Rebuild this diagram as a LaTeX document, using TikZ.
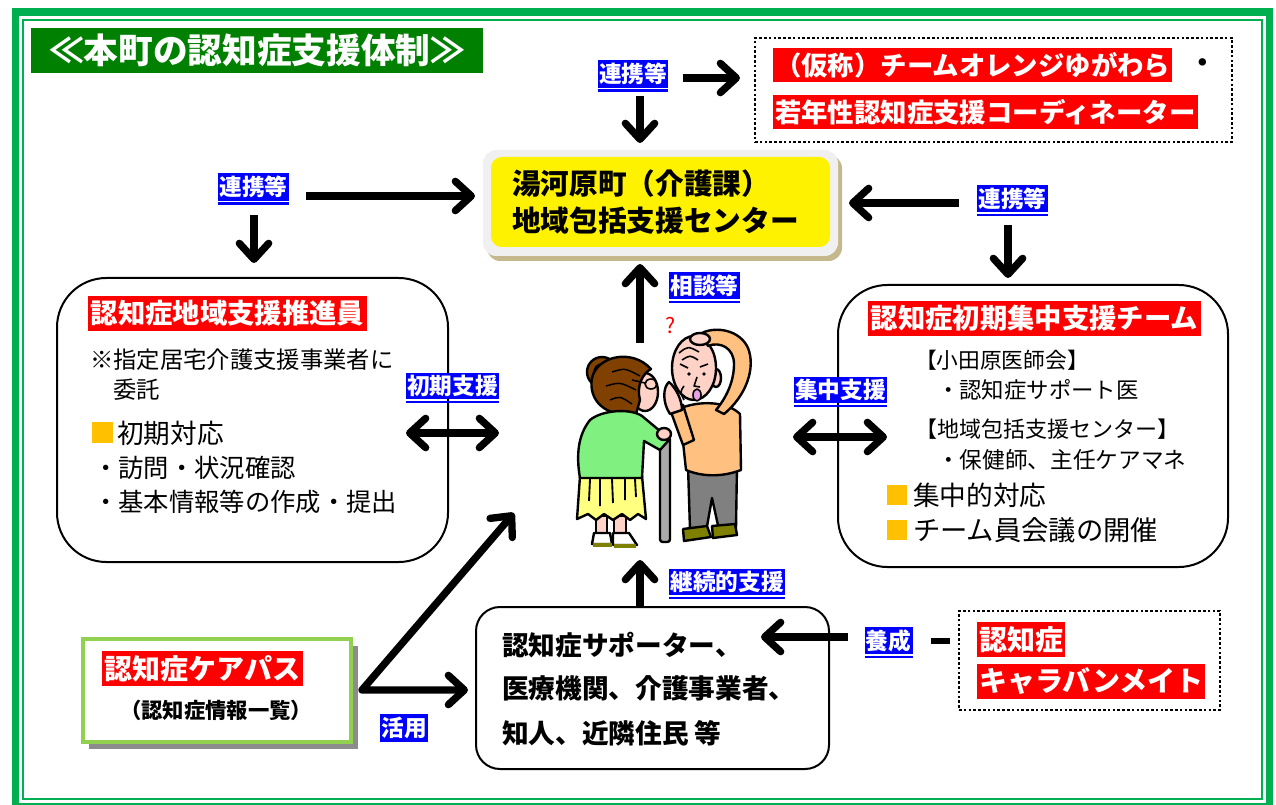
\documentclass[tikz,border=0pt]{standalone}
\usepackage{fontspec}
\setmainfont{Noto Sans CJK JP}
\usetikzlibrary{arrows.meta,fit,calc}

\definecolor{framegreen}{RGB}{0,176,80}
\definecolor{titlegreen}{RGB}{0,128,0}
\definecolor{tagblue}{RGB}{0,0,255}
\definecolor{barred}{RGB}{255,0,0}
\definecolor{bulletgold}{RGB}{255,192,0}
\definecolor{pathgreen}{RGB}{146,208,80}
\definecolor{panelgray}{RGB}{240,240,240}
\definecolor{paneltan}{RGB}{196,184,140}
\definecolor{hairbrown}{RGB}{128,64,0}
\definecolor{skin}{RGB}{255,210,200}
\definecolor{jumpergreen}{RGB}{128,240,128}
\definecolor{skirtyellow}{RGB}{255,255,128}
\definecolor{jumperorange}{RGB}{255,192,128}
\definecolor{trousergray}{RGB}{128,128,128}
\definecolor{shoeolive}{RGB}{128,128,0}
\definecolor{canegray}{RGB}{170,170,170}
\definecolor{mouthlilac}{RGB}{230,160,230}
\definecolor{shadowgray}{RGB}{140,140,140}

\newcommand\fsz[1]{\fontsize{#1pt}{#1pt}\selectfont}

\begin{document}
\begin{tikzpicture}[x=0.75pt,y=-0.75pt,
  every node/.style={inner sep=0pt,outer sep=0pt},
  >={Straight Barb[length=12pt,width=22pt,round]},
  bigarrow/.style={line width=5.5pt,->},
  twoway/.style={line width=5.5pt,<->},
  tag/.style={fill=tagblue,text=white,font=\fsz{17}\bfseries,inner xsep=1pt,inner ysep=2pt},
  redbar/.style={fill=barred,text=white,font=\fsz{20.5}\bfseries,inner xsep=2pt,inner ysep=3pt,anchor=west},
  plain/.style={anchor=west,text=black},
  roundbox/.style={draw,line width=1.5pt,rounded corners=#1},
  dotbox/.style={draw,line width=2pt,dash pattern=on 2pt off 1.6pt},
  outline/.style={draw=black,line width=1.8pt,line join=round}
]
\useasboundingbox (0,0) rectangle (1276,805);
\fill[white] (0,0) rectangle (1276,805);

% double green frame
\draw[framegreen,line width=5.5pt] (15.5,12) rectangle (1269.5,807);
\draw[framegreen,line width=1.5pt] (22.5,20) rectangle (1262,799);

% title
\node[fit={(31,28) (483,73)},fill=titlegreen] (title) {};
\node[text=white,font=\fsz{26}\bfseries] (titletext) at (title.center) {≪本町の認知症支援体制≫};

% top right dotted panel
\node[fit={(755,38) (1232,142)},dotbox] (teambox) {};
\node[redbar,font=\fsz{19.8}\bfseries,inner xsep=1.5pt] (tb1) at (773,65) {（仮称）チームオレンジゆがわら};
\node[anchor=center,font=\fsz{20}\bfseries] (tbdot) at (1203,66) {・};
\node[redbar,font=\fsz{19.8}\bfseries,inner xsep=1.5pt] (tb2) at (773,112) {若年性認知症支援コーディネーター};

% central office panel
\fill[paneltan,rounded corners=10pt] (487,155) rectangle (842,261);
\node[fit={(483,150) (838,256)},fill=panelgray,rounded corners=10pt] (yellowbox) {};
\fill[yellow,rounded corners=8pt] (491,157) rectangle (830,247);
\node[plain,font=\fsz{21.5}\bfseries] (yt1) at (512,184) {湯河原町（介護課）};
\node[plain,font=\fsz{21.5}\bfseries] (yt2) at (512,221) {地域包括支援センター};

% left panel: community support promoter
\node[fit={(57,278) (448,562)},roundbox=37pt] (leftbox) {};
\node[redbar] (lbt) at (88,313.5) {認知症地域支援推進員};
\node[plain,font=\fsz{17.5}] (lb1) at (90,360) {※指定居宅介護支援事業者に};
\node[plain,font=\fsz{17.5}] (lb2) at (113,390) {委託};
\fill[bulletgold] (92,422) rectangle (113,443);
\node[plain,font=\fsz{20}] (lb3) at (117,433) {初期対応};
\node[plain,font=\fsz{19}] (lb4) at (93,468) {・訪問・状況確認};
\node[plain,font=\fsz{19}] (lb5) at (93,502) {・基本情報等の作成・提出};

% right panel: early intensive support team
\node[fit={(838,285) (1228,567)},roundbox=37pt] (rightbox) {};
\node[redbar] (rbt) at (868,318.5) {認知症初期集中支援チーム};
\node[plain,font=\fsz{16.3}] (rb1) at (915,360) {【小田原医師会】};
\node[plain,font=\fsz{16.8}] (rb2) at (937,390) {・認知症サポート医};
\node[plain,font=\fsz{16.5}] (rb3) at (915,429) {【地域包括支援センター】};
\node[plain,font=\fsz{17}] (rb4) at (937,460) {・保健師、主任ケアマネ};
\fill[bulletgold] (887,485) rectangle (907,505);
\node[plain,font=\fsz{20}] (rb5) at (913,495) {集中的対応};
\fill[bulletgold] (887,520) rectangle (907,540);
\node[plain,font=\fsz{20.5}] (rb6) at (913,530) {チーム員会議の開催};

% bottom panel: supporters
\node[fit={(476,607) (829,769)},roundbox=18pt] (bottombox) {};
\node[plain,font=\fsz{20}\bfseries] (bb1) at (502,645) {認知症サポーター、};
\node[plain,font=\fsz{20}\bfseries] (bb2) at (502,688) {医療機関、介護事業者、};
\node[plain,font=\fsz{20}\bfseries] (bb3) at (502,733) {知人、近隣住民 等};

% caravan mate panel
\node[fit={(959,611) (1220,710)},dotbox] (caravan) {};
\node[redbar,font=\fsz{21}\bfseries,inner xsep=1.5pt] (cv1) at (977,639.5) {認知症};
\node[redbar,font=\fsz{21}\bfseries,inner xsep=1.5pt] (cv2) at (977,681.5) {キャラバンメイト};

% care path panel
\fill[shadowgray] (89,646) rectangle (358,749);
\node[fit={(83,639) (351,742)},fill=white,draw=pathgreen,line width=3pt] (carepath) {};
\node[redbar,font=\fsz{21}\bfseries] (cp1) at (102,668.5) {認知症ケアパス};
\node[plain,font=\fsz{16}\bfseries] (cp2) at (120,710) {（認知症情報一覧）};

% blue tags (on top of the panel borders)
\node[tag] (lA) at (633,74) {連携等};
\node[tag] (lB) at (253.5,187) {連携等};
\node[tag] (lC) at (1012.5,198.5) {連携等};
\node[tag] (lE) at (704.5,285.5) {相談等};
\node[tag] (lD) at (452.5,386) {初期支援};
\node[tag] (lF) at (840.5,390) {集中支援};
\node[tag] (lG) at (727,582) {継続的支援};
\node[tag] (lH) at (888.5,640.5) {養成};
\node[tag] (lI) at (404,728) {活用};
\foreach \t in {lA,lB,lC,lE,lD,lF,lG,lH}
  \draw[tagblue,line width=1.6pt] ([yshift=-2.2pt]\t.south west) -- ([yshift=-2.2pt]\t.south east);

% the two people in the middle
\node[fit={(577,343) (748,548)}] (people) {};
\begin{scope}[outline]
  % man: trousers, shoes, jumper
  \filldraw[fill=trousergray] (688,466) -- (737,464) -- (736,528) -- (719,530) -- (712,498) -- (706,532) -- (690,530) -- cycle;
  \filldraw[fill=shoeolive] (683,529) -- (707,526) -- (711,537) -- (684,541) -- cycle;
  \filldraw[fill=shoeolive] (712,526) -- (735,524) -- (737,535) -- (713,538) -- cycle;
  \filldraw[fill=jumperorange] (676,410) .. controls (700,399) and (728,402) .. (740,414) -- (741,470) .. controls (720,478) and (700,476) .. (686,470) -- (683,442) -- cycle;
  \filldraw[fill=jumperorange] (683,445) -- (671,412) -- (683,405) -- (694,440) -- cycle;
  \filldraw[fill=skin] (670,414) .. controls (662,402) and (663,387) .. (669,382) .. controls (676,388) and (682,400) .. (682,410) -- cycle;
  % man: head and face
  \filldraw[fill=skin] (716,378) ellipse (5 and 9);
  \filldraw[fill=skin] (694,368) ellipse (22 and 32);
  \draw[line width=1.2pt] (679,353) .. controls (688,346) .. (699,352);
  \draw[line width=1.2pt] (682,360) .. controls (690,355) .. (698,360);
  \draw[line width=1.2pt] (680,364) -- (688,368);
  \draw[line width=1.2pt] (700,367) -- (708,364);
  \fill (689,374) circle (1.8);
  \fill (704,374) circle (1.8);
  \draw[line width=1.2pt] (697,377) -- (694,386) -- (700,387);
  \draw[line width=1.2pt] (684,386) .. controls (680,392) .. (684,400);
  \filldraw[fill=mouthlilac,line width=1.2pt] (697,395) ellipse (4 and 6);
  % man: raised arm reaching over to the top of the head
  \filldraw[fill=jumperorange] (724,414) .. controls (746,396) and (756,368) .. (748,348) .. controls (740,330) and (716,326) .. (702,333) -- (708,346) .. controls (720,341) and (734,348) .. (734,364) .. controls (734,382) and (726,398) .. (716,410) -- cycle;
  \filldraw[fill=skin] (700,339) ellipse (10 and 6);
  % cane
  \filldraw[fill=canegray,rounded corners=2pt] (660,437) rectangle (670,542);
  % woman: legs, shoes, skirt
  \filldraw[fill=skin] (596,516) rectangle (607,537);
  \filldraw[fill=skin] (614,516) rectangle (626,537);
  \filldraw[fill=white] (594,533) -- (610,533) -- (612,544) -- (592,544) -- cycle;
  \filldraw[fill=white] (613,533) -- (629,533) -- (637,545) -- (613,545) -- cycle;
  \draw[shoeolive,line width=2.4pt] (593,545) -- (612,545);
  \draw[shoeolive,line width=2.4pt] (614,546) -- (636,546);
  \filldraw[fill=skirtyellow] (580,476) -- (642,476) -- (646,519) -- (638,514) -- (630,520) -- (622,514) -- (613,520) -- (604,514) -- (596,520) -- (588,514) -- (577,519) -- cycle;
  \draw[line width=1.4pt] (590,479) -- (589,501) (600,479) -- (600,506) (612,479) -- (613,503) (625,479) -- (625,500) (635,479) -- (636,497);
  % woman: head
  \filldraw[fill=hairbrown] (602,372) circle (15);
  \draw[line width=1.2pt] (602,372) circle (8);
  \filldraw[fill=skin] (645,392) ellipse (13 and 19);
  \filldraw[fill=hairbrown] (636,414) .. controls (605,418) and (588,400) .. (592,378) .. controls (597,356) and (632,348) .. (651,369) .. controls (643,373) and (636,386) .. (640,400) -- cycle;
  \draw[line width=1.1pt] (612,372) .. controls (625,368) .. (640,376) (606,386) .. controls (620,382) .. (636,390) (610,400) .. controls (620,396) .. (632,404);
  \draw[line width=1.2pt] (651,384) ellipse (6 and 5);
  \draw[line width=1.2pt] (645,383) -- (632,380);
  % woman: jumper and hand on the cane
  \filldraw[fill=jumpergreen] (590,420) .. controls (602,410) and (630,408) .. (642,416) -- (660,431) -- (669,440) -- (660,450) -- (644,441) -- (642,478) -- (580,478) .. controls (576,455) and (578,435) .. (590,420) -- cycle;
  \filldraw[fill=skin] (664,434) ellipse (7 and 6);
\end{scope}
\node[text=red,font=\fsz{16}] (qmark) at (671,326) {?};

% connectors
\draw[bigarrow] ($(lA)+(50,4)$) -- ($(teambox.west |- lA.center)+(-15,4)$);
\draw[bigarrow] ($(lA)+(7,22)$) -- ($(lA.center |- yellowbox.north)+(7,-7)$);
\draw[bigarrow] ($(lB)+(52.5,9)$) -- ($(yellowbox.west |- lB.center)+(-8,9)$);
\draw[bigarrow] ($(lB)+(0.5,28)$) -- ($(lB.center |- leftbox.north)+(0.5,-15)$);
\draw[bigarrow] ($(lC)+(-53.5,4.5)$) -- ($(yellowbox.east |- lC.center)+(11,4.5)$);
\draw[bigarrow] ($(lC)+(-4.5,26.5)$) -- ($(lC.center |- rightbox.north)+(-4.5,-7)$);
\draw[bigarrow] ($(people.north)+(-22.5,0)$) -- ($(people.north |- yellowbox.south)+(-22.5,8)$);
\draw[twoway] ($(leftbox.east)+(-42,13)$) -- ($(people.west |- leftbox.east)+(-78,13)$);
\draw[twoway] ($(people.east |- rightbox.west)+(45,11)$) -- ($(rightbox.west)+(49,11)$);
\draw[bigarrow] ($(bottombox.north)+(-12.5,0)$) -- ($(bottombox.north |- people.south)+(-12.5,12)$);
\draw[bigarrow] ($(lH)+(-40.5,-3.5)$) -- ($(bottombox.east |- lH.center)+(-68,-3.5)$);
\draw[line width=5pt] ($(lH)+(42.5,0.5)$) -- ($(caravan.west |- lH.center)+(-9,0.5)$);
\coordinate (apex) at (362,690);
\coordinate (careup) at (514,513);
\draw[twoway,line join=round] (careup) -- (apex) -- ($(bottombox.west)+(-8,2)$);
\end{tikzpicture}
\end{document}
